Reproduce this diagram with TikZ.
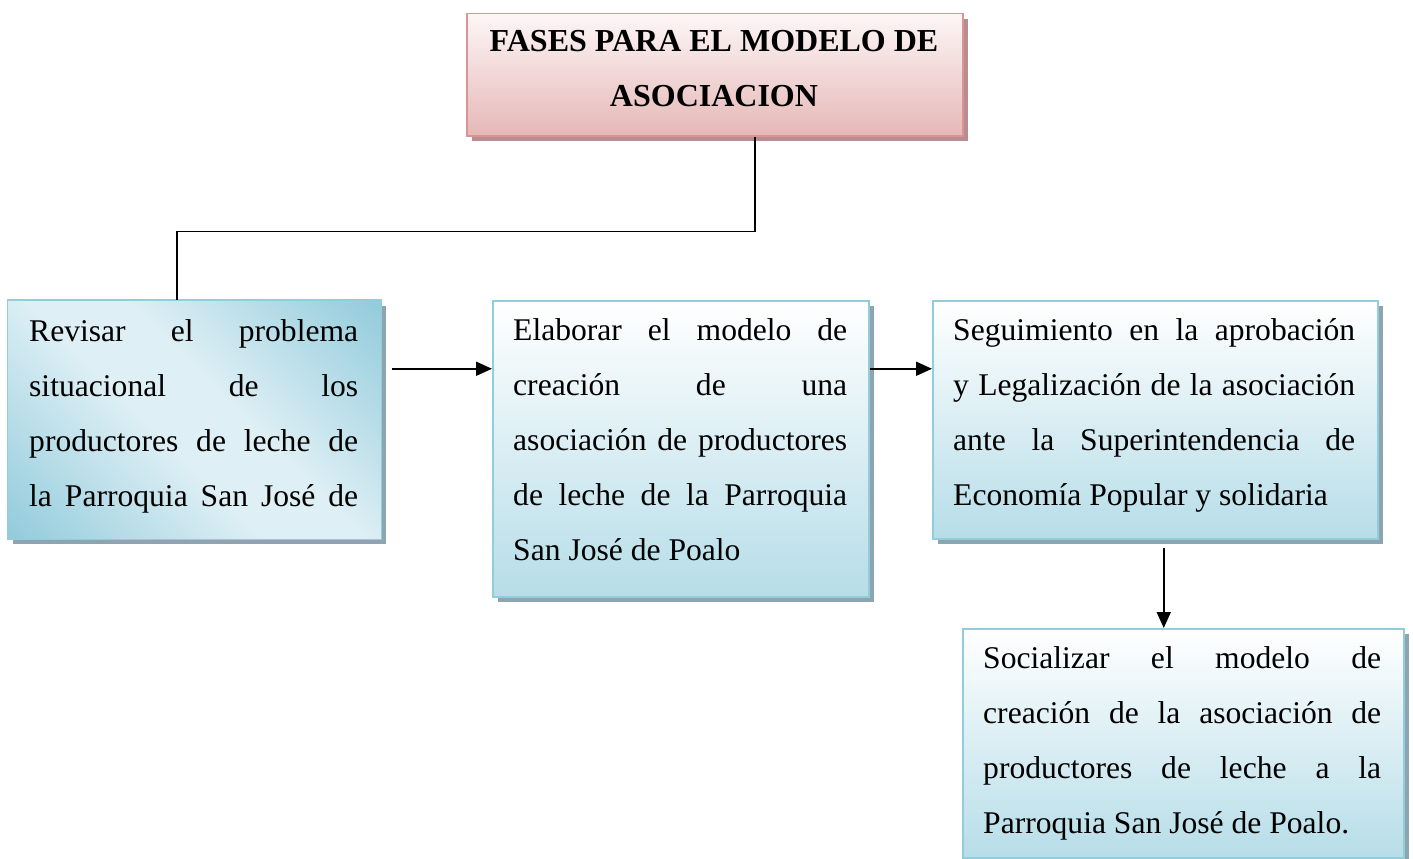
\documentclass[tikz,border=0pt]{standalone}
\usepackage{fontspec}
\setmainfont{Liberation Serif}
\usetikzlibrary{shadows,arrows.meta,calc}
\definecolor{bbord}{RGB}{146,205,220}
\definecolor{bblue}{RGB}{182,221,232}
\definecolor{bdark}{RGB}{141,201,218}
\definecolor{blight}{RGB}{222,239,245}
\definecolor{bshad}{RGB}{140,165,176}
\definecolor{pbord}{RGB}{217,149,148}
\definecolor{pbot}{RGB}{229,184,183}
\definecolor{ptop}{RGB}{253,246,246}
\definecolor{pshad}{RGB}{185,140,143}
\pgfdeclarehorizontalshading{diagb}{100bp}{color(0bp)=(bdark); color(31bp)=(bdark); color(47bp)=(blight); color(53bp)=(blight); color(69bp)=(bdark); color(100bp)=(bdark)}
\newcommand{\jl}[2]{\makebox[#1][s]{#2}}
\begin{document}
\begin{tikzpicture}[x=1pt,y=-1pt,
  box/.style={rectangle, draw=bbord, line width=1.5pt, inner sep=0pt, anchor=north west,
    drop shadow={shadow xshift=5pt, shadow yshift=-5pt, fill=bshad, opacity=1}},
  vgrad/.style={top color=white, bottom color=bblue},
  titlebox/.style={rectangle, draw=pbord, line width=1.5pt, inner sep=0pt, anchor=north west,
    top color=ptop, bottom color=pbot,
    drop shadow={shadow xshift=5pt, shadow yshift=-5pt, fill=pshad, opacity=1}},
  txt/.style={anchor=north west, inner sep=0pt, align=left, font=\fontsize{31.6}{55}\selectfont},
  ttl/.style={anchor=north, inner sep=0pt, align=center, font=\fontsize{32}{55}\selectfont\bfseries},
  con/.style={line width=1.8pt},
  arr/.style={line width=1.8pt, -{Triangle[length=16pt,width=14pt]}}]
\useasboundingbox (0,0) rectangle (1413,859);

\node[titlebox, minimum width=496pt, minimum height=122pt] (t) at (466,13) {};
\node[box, fill=bdark, minimum width=372.5pt, minimum height=238pt] (b1) at (7.5,300) {};
\begin{scope}
  \clip (b1.north west) rectangle (b1.south east);
  \shade[shading=diagb, shading angle=45] ([shift={(-300,-300)}]b1.center) rectangle ([shift={(300,300)}]b1.center);
\end{scope}
\draw[draw=bbord, line width=1.5pt] (b1.north west) rectangle (b1.south east);
\node[box, vgrad, minimum width=376pt, minimum height=296pt] (b2) at (492,300) {};
\node[box, vgrad, minimum width=445pt, minimum height=238pt] (b3) at (932,300) {};
\node[box, vgrad, minimum width=441pt, minimum height=229pt] (b4) at (962,628) {};

\node[ttl] (tt) at (714,13.2) {\strut FASES PARA EL MODELO DE\\ASOCIACION};

\node[txt] (x1) at (29,302.5) {\strut\jl{329pt}{Revisar el problema}\\
\jl{329pt}{situacional de los}\\
\jl{329pt}{productores de leche de}\\
\jl{329pt}{la Parroquia San José de}};

\node[txt] (x2) at (513,301.5) {\strut\jl{334pt}{Elaborar el modelo de}\\
\jl{334pt}{creación de una}\\
\jl{334pt}{asociación de productores}\\
\jl{334pt}{de leche de la Parroquia}\\
San José de Poalo};

\node[txt] (x3) at (953,301.5) {\strut\jl{402pt}{Seguimiento en la aprobación}\\
\jl{402pt}{y Legalización de la asociación}\\
\jl{402pt}{ante la Superintendencia de}\\
Economía Popular y solidaria};

\node[txt] (x4) at (983,629.5) {\strut\jl{398pt}{Socializar el modelo de}\\
\jl{398pt}{creación de la asociación de}\\
\jl{398pt}{productores de leche a la}\\
Parroquia San José de Poalo.};

\draw[con] ([xshift=40pt]t.south) -- ++(0,95) -| ([xshift=-17.5pt]b1.north);
\draw[arr] ([shift={(10,-51)}]b1.east) coordinate (a1) -- (a1 -| b2.west);
\draw[arr] (b2.east |- a1) -- (b3.west |- a1);
\draw[arr] ([shift={(8.5,8)}]b3.south) coordinate (a3) -- (a3 |- b4.north);
\end{tikzpicture}
\end{document}
